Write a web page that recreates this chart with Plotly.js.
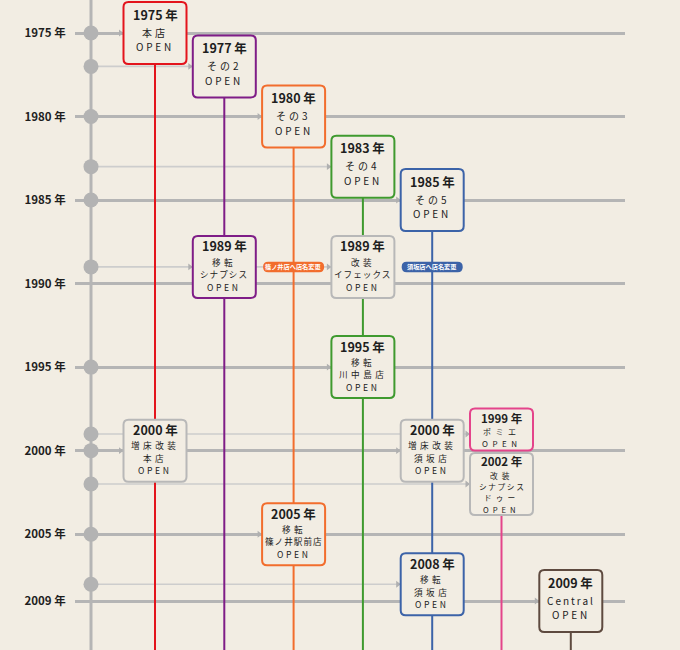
<!DOCTYPE html>
<html><head><meta charset="utf-8">
<script src="https://cdn.plot.ly/plotly-3.0.1.min.js"></script>
<style>html,body{margin:0;padding:0;background:#f2ede3;}</style>
</head><body>
<div id="chart" style="width:680px;height:650px;"></div>
<script>
// ---------------- data ----------------
const yearTicks = [1975, 1980, 1985, 1990, 1995, 2000, 2005, 2009];
const yearTickLabels = ['1975 年', '1980 年', '1985 年', '1990 年', '1995 年', '2000 年', '2005 年', '2009 年'];

const eventYears   = [1975, 1977, 1980, 1983, 1985, 1989, 1989, 1995, 2000, 1999, 2000, 2002, 2005, 2008, 2009];
const eventColumns = [1, 2, 3, 4, 5, 2, 4, 4, 1, 6, 5, 6, 3, 5, 7];
const eventTitles  = ['1975 年', '1977 年', '1980 年', '1983 年', '1985 年', '1989 年', '1989 年', '1995 年',
                      '2000 年', '1999 年', '2000 年', '2002 年', '2005 年', '2008 年', '2009 年'];
const eventLines = [
  ['本店', 'OPEN'], ['その2', 'OPEN'], ['その3', 'OPEN'], ['その4', 'OPEN'], ['その5', 'OPEN'],
  ['移転', 'シナプシス', 'OPEN'], ['改装', 'イフェックス', 'OPEN'], ['移転', '川中島店', 'OPEN'],
  ['増床改装', '本店', 'OPEN'], ['ポミエ', 'OPEN'], ['増床改装', '須坂店', 'OPEN'],
  ['改装', 'シナプシス', 'ドゥー', 'OPEN'], ['移転', '篠ノ井駅前店', 'OPEN'], ['移転', '須坂店', 'OPEN'],
  ['Central', 'OPEN']
];
const eventKinds = ['red', 'purple', 'orange', 'green', 'blue', 'purple', 'gray', 'green', 'gray', 'pink', 'gray', 'gray', 'orange', 'blue', 'brown'];

const columnKinds = ['red', 'purple', 'orange', 'green', 'blue', 'pink', 'brown'];
const columnStartYears = [1975, 1977, 1980, 1983, 1985, 2002, 2009];

const spineDotYears = [1975, 1977, 1980, 1983, 1985, 1989, 1995, 1999, 2000, 2002, 2005, 2008];

const badgeYears   = [1989, 1989];
const badgeColumns = [3, 5];
const badgeTexts   = ['篠ノ井店へ店名変更', '須坂店へ店名変更'];
const badgeKinds   = ['orange', 'blue'];

// ---------------- style ----------------
const COLORS = {
  red: '#e3141c', purple: '#7f1d87', orange: '#f26d2d', green: '#3f9a2f', blue: '#3c63a8',
  pink: '#e4448b', brown: '#5e4a3f', gray: '#b8b8b8'
};
const BG = '#f2ede3';
const FONT = '"Noto Sans CJK JP", "Noto Sans", sans-serif';
const PX_X = 69.3;          // px per column
const PX_Y = 568 / 34;      // px per year
const xRange = [1 - 80 / PX_X, 1 + 470 / PX_X];
const yRange = [1975 + 617 / PX_Y, 1975 - 33 / PX_Y];
const spineX = 1 - 64 / PX_X;
const BOX_W = 63, BOX_H = 62, BOX_R = 5;
const boxOverride = {9: {h: 42, dy: -4.5, short: true}};
// text layout per box type: offsets (px from the box centre) and sizes, title first
const textLayout = {
  3:     {offs: [-19, -0.8, 13.8],            sizes: [12.5, 10, 10]},
  4:     {offs: [-21, -5.2, 7.3, 19.8],       sizes: [12.5, 8.6, 8.6, 8.6]},
  5:     {offs: [-22.6, -8.4, 2.75, 13.9, 25],  sizes: [11.5, 7.7, 7.7, 7.7, 7.7]},
  short: {offs: [-11.7, 2.5, 14.2],           sizes: [11.5, 8, 8]}
};
const openSpacing = {3: 2.8, 4: 2.6, 5: 4, short: 4.5};
const shortWordSpacing = {3: 3, 4: 3.5, 5: 4, short: 4.5};
const longWordSpacing = {3: 1, 4: 1, 5: 1.6, short: 1};

function roundRect(cx, cy, wpx, hpx, rpx) {
  const hw = wpx / 2 / PX_X, hh = hpx / 2 / PX_Y, rx = rpx / PX_X, ry = rpx / PX_Y;
  const x0 = cx - hw, x1 = cx + hw, y0 = cy - hh, y1 = cy + hh;
  return `M${x0 + rx},${y0} L${x1 - rx},${y0} Q${x1},${y0} ${x1},${y0 + ry} L${x1},${y1 - ry} Q${x1},${y1} ${x1 - rx},${y1} ` +
         `L${x0 + rx},${y1} Q${x0},${y1} ${x0},${y1 - ry} L${x0},${y0 + ry} Q${x0},${y0} ${x0 + rx},${y0} Z`;
}

const traces = [];
const shapes = [];
const annotations = [];

// spine
shapes.push({type: 'line', xref: 'x', yref: 'paper', x0: spineX, x1: spineX, y0: 0, y1: 1,
  line: {color: '#b5b5b5', width: 3}, layer: 'below'});

// minor connector lines (event years that are not tick years)
const minorYears = [...new Set(eventYears)].filter(y => !yearTicks.includes(y));
minorYears.forEach(y => {
  const cols = eventColumns.filter((c, i) => eventYears[i] === y);
  const c = Math.max(...cols);
  traces.push({x: [spineX, c - BOX_W / 2 / PX_X], y: [y, y], mode: 'lines',
    line: {color: '#cdcdcd', width: 1.6}, hoverinfo: 'skip', showlegend: false});
});

// column lines
columnStartYears.forEach((y, i) => {
  traces.push({x: [i + 1, i + 1], y: [y, yRange[0]], mode: 'lines',
    line: {color: COLORS[columnKinds[i]], width: 2}, hoverinfo: 'skip', showlegend: false});
});

// spine dots
traces.push({x: spineDotYears.map(() => spineX), y: spineDotYears, mode: 'markers',
  marker: {size: 15, color: '#b3b3b3'}, hoverinfo: 'skip', showlegend: false});

// connector arrows at box left edges
traces.push({x: eventColumns.map(c => c - (BOX_W / 2 + 3) / PX_X), y: eventYears, mode: 'markers',
  marker: {symbol: 'triangle-right', size: 6, color: '#b0b0b0'}, hoverinfo: 'skip', showlegend: false});

function spacingFor(t, key) {
  if (t === 'OPEN') return openSpacing[key];
  if (t === 'Central') return 2;
  if (t.length >= 5) return longWordSpacing[key];
  return shortWordSpacing[key];
}

// boxes + texts
eventYears.forEach((y, i) => {
  const c = eventColumns[i];
  const ov = boxOverride[i] || {};
  const h = ov.h || BOX_H, dy = ov.dy || 0;
  const cy = y + dy / PX_Y;
  shapes.push({type: 'path', xref: 'x', yref: 'y', path: roundRect(c, cy, BOX_W, h, BOX_R),
    fillcolor: BG, line: {color: COLORS[eventKinds[i]], width: 2}, layer: 'above'});
  const lines = [eventTitles[i]].concat(eventLines[i]);
  const key = ov.short ? 'short' : lines.length;
  const tl = textLayout[key];
  lines.forEach((t, k) => {
    const isTitle = k === 0;
    const ls = isTitle ? 0 : spacingFor(t, key);
    annotations.push({x: c, y: y, xref: 'x', yref: 'y', showarrow: false,
      xanchor: 'center', yanchor: 'middle', yshift: -(dy + tl.offs[k]),
      borderpad: 0, borderwidth: 0,
      text: ls ? `<span style="letter-spacing:${ls}px">${t}</span>` : t,
      font: {family: FONT, size: tl.sizes[k], color: isTitle ? '#1e1e1e' : '#222222', weight: isTitle ? 600 : 400}});
  });
});

// badges
badgeYears.forEach((y, i) => {
  const c = badgeColumns[i];
  shapes.push({type: 'path', xref: 'x', yref: 'y', path: roundRect(c, y, 61, 10.5, 5),
    fillcolor: COLORS[badgeKinds[i]], line: {width: 0}, layer: 'above'});
  annotations.push({x: c, y: y, xref: 'x', yref: 'y', showarrow: false, xanchor: 'center', yanchor: 'middle',
    borderpad: 0, borderwidth: 0,
    text: badgeTexts[i], font: {family: FONT, size: 6.2, color: '#ffffff', weight: 700}});
});

const layout = {
  width: 680, height: 650,
  margin: {l: 75, r: 55, t: 0, b: 0},
  paper_bgcolor: BG, plot_bgcolor: BG,
  showlegend: false,
  xaxis: {range: xRange, visible: false, fixedrange: true},
  yaxis: {range: yRange, tickvals: yearTicks, ticktext: yearTickLabels,
    showgrid: true, gridcolor: '#b5b5b5', gridwidth: 3, zeroline: false, showline: false,
    ticks: 'outside', ticklen: 6, tickcolor: 'rgba(0,0,0,0)',
    tickfont: {family: FONT, size: 11.5, color: '#1e1e1e', weight: 700}, fixedrange: true},
  shapes: shapes,
  annotations: annotations
};

Plotly.newPlot('chart', traces, layout, {staticPlot: true, displayModeBar: false});
</script>
</body></html>
